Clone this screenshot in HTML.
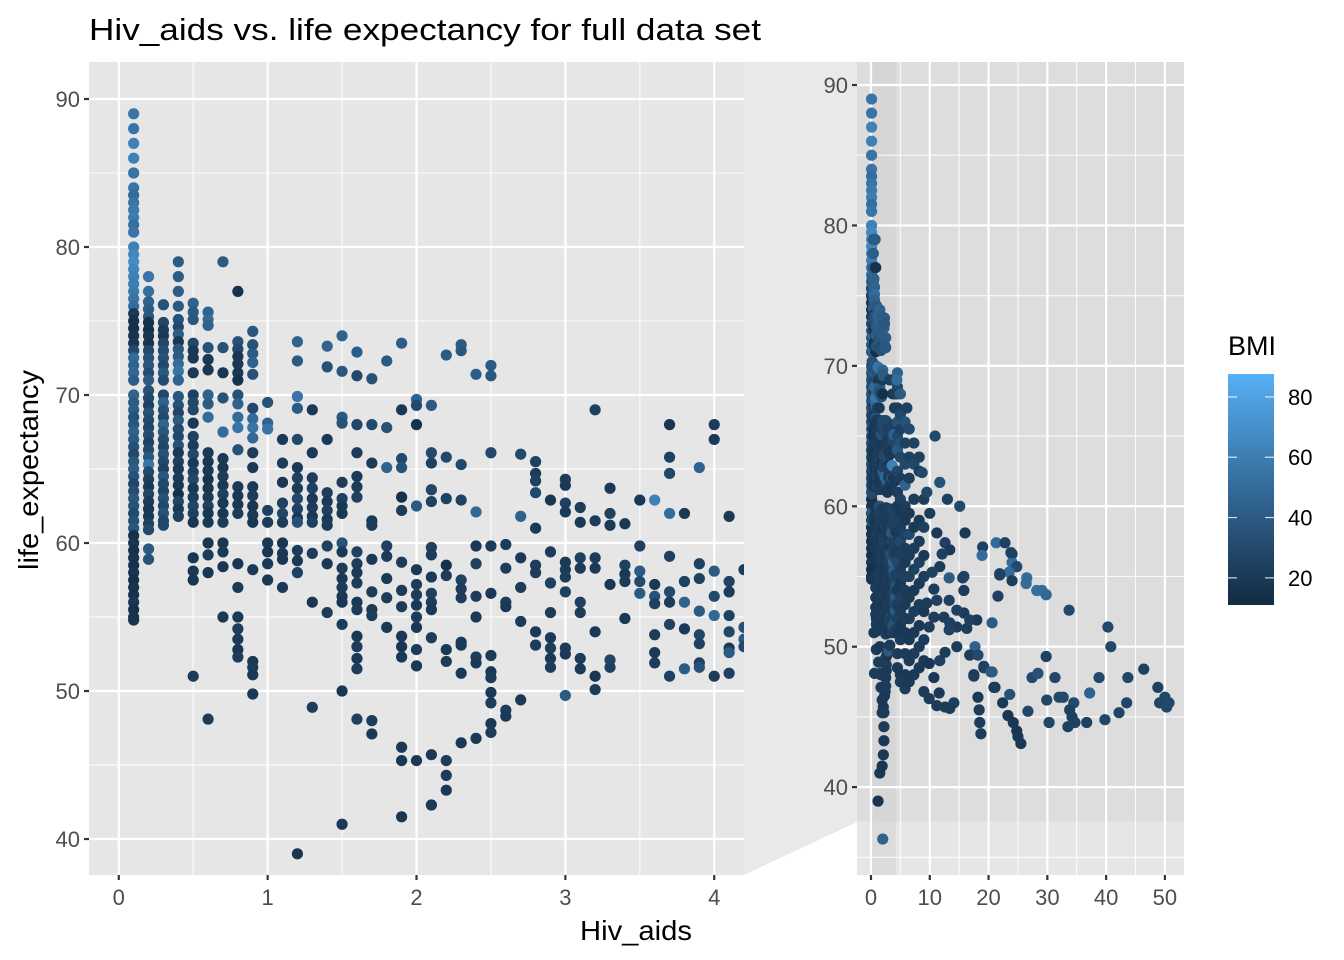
<!DOCTYPE html>
<html>
<head>
<meta charset="utf-8">
<style>
  html, body { margin: 0; padding: 0; background: #ffffff; }
  svg { display: block; font-family: "Liberation Sans", Arial, sans-serif; }
</style>
</head>
<body>
<svg id="chart" width="1344" height="960" viewBox="0 0 1344 960" xmlns="http://www.w3.org/2000/svg">
  <defs>
    <clipPath id="clipMain"><rect x="89" y="62" width="655" height="813"/></clipPath>
    <clipPath id="clipFull"><rect x="857" y="62" width="327" height="813"/></clipPath>
    <linearGradient id="bmiGrad" x1="0" y1="1" x2="0" y2="0"></linearGradient>
  </defs>
  <text x="89" y="40" font-size="31" textLength="672" lengthAdjust="spacingAndGlyphs" fill="#000">Hiv_aids vs. life expectancy for full data set</text>
  <g id="gMain"></g>
  <polygon points="744,62 857,62 857,822 744,875" fill="#e9e9e9"/>
  <g id="gFull"></g>
  <text x="636" y="940" font-size="28" text-anchor="middle" textLength="112" lengthAdjust="spacingAndGlyphs" fill="#000">Hiv_aids</text>
  <text transform="translate(38,470) rotate(-90)" font-size="28" text-anchor="middle" textLength="200" lengthAdjust="spacingAndGlyphs" fill="#000">life_expectancy</text>
  <g id="gLegend"></g>
</svg>
<script>
// ---- data: grouped by Hiv_aids value ----
const columnHiv = [0.1,0.2,0.3,0.4,0.5,0.6,0.7,0.8,0.9,1.0,1.1,1.2,1.3,1.4,1.5,1.6,1.7,1.8,1.9,2.0,2.1,2.2,2.3,2.4,2.5,2.6,2.7,2.8,2.9,3.0,3.1,3.2,3.3,3.4,3.5,3.6,3.7,3.8,3.9,4.0,4.1,4.2,4.5,5,5.8,6.5,7.3,8.2,9];
const columnLife = [
 [89,88,87,86,85,84,83.5,83,82.5,82,81.5,81,80,79.5,79,78.5,78,77.5,77,76.5,76,75.5,75,74.5,74,73.5,73,72.5,72,71.5,71,70,69.5,69,68.5,68,67.5,67,66.5,66,65.5,65,64.5,64,63.5,63,62.5,62,61.5,61,60.5,60,59.5,59,58.5,58,57.5,57,56.5,56,55.5,55,54.8],
 [78,77,76.3,75.8,75.3,74.9,74.4,74,73.5,73,72.5,72,71.5,71,70.3,69.8,69.3,68.8,68.3,67.8,67.3,66.8,66.3,65.8,65.3,64.8,64.3,63.8,63.3,62.8,62.3,61.8,61.3,60.9,59.6,58.9],
 [76.1,74.9,74.4,74,73.5,73,72.5,72,71.5,71,70,69.5,69,68.5,68,67.5,67,66.5,66,65.5,65,64.5,64,63.5,63,62.5,62,61.5,61.2],
 [79,78,77,76,75.1,74.6,74.1,73.6,73.1,72.6,72.1,71.6,71,69.9,69.3,68.8,68.3,67.7,67.2,66.6,66.1,65.5,65,64.4,63.9,63.3,62.8,62.3,61.8],
 [76.2,75.6,75.1,73.5,73,72.5,71.5,70,69.5,69,68.1,67.2,66.6,66,65.4,64.8,64.3,63.7,63.1,62.5,62,61.4,59,58.1,57.5,51],
 [75.6,75.1,74.7,73.2,72.4,71.7,70,69.4,68.5,66.1,65.5,64.9,64.3,63.7,63.1,62.5,62,61.4,60,59.2,58,48.1],
 [79,73.2,71.5,69.8,67.5,65.7,65.1,64.5,63.9,63.3,62.7,62,61.4,60,59.4,58.4,55],
 [77,73.6,73.1,72.6,72.1,71.5,71,70,69.4,68.5,67.8,66.3,63.8,63.2,62.6,62,58.6,57,55,54.2,53.5,52.8,52.3],
 [74.3,73.4,72.8,72.2,71.4,69.1,68.4,67.8,67.1,66.1,65.1,63.8,63.2,62.5,61.9,61.4,58.2,52,51.6,51.1,49.8],
 [69.5,68.1,67.7,62.2,61.4,60,59.4,58.6,57.5],
 [67,65.4,64.1,62.7,62,61.4,60,59.3,58.9,57],
 [73.6,72.3,69.9,69.1,67,65.1,64.4,63.7,63,62.3,61.7,61.4,59.5,58.8,58,39],
 [69,66.1,64.4,63.7,63,62.4,61.8,61.4,59.3,56,48.9],
 [73.3,71.9,67,63.4,62.8,62.2,61.6,61.2,59.8,58.6,55.3],
 [74,71.6,68.5,68.1,64.1,63,62.5,62,60,59.4,58.3,57.6,57,56.4,56,54.5,50,41],
 [72.9,71.3,68,66.1,64.5,63.8,63.1,59.4,58.6,58,57.3,56,55.5,53.7,53,52.2,51.5,48.1],
 [71.1,68,65.4,61.5,61.2,58.9,56.7,55.5,55.1,48,47.1],
 [72.3,67.8,65.1,59.8,59.1,57.6,56.3,54.3],
 [73.5,69,65.7,65.1,63.1,62.2,58.7,56.8,55.7,53.7,53,52.3,46.2,45.3,41.5],
 [69.7,69.3,68,62.5,58.2,57.2,56.5,55.8,55,54.3,52.8,51.7,45.3,36.3],
 [69.3,66.1,65.4,63.6,62.8,59.7,59.2,57.7,56.6,56,55.5,53.6,45.7,42.3],
 [72.7,65.8,63,58.5,57.8,52.8,52,45.3,44.3,43.3],
 [73.4,73,65.3,62.9,57.5,56.9,56.3,53.3,53.1,51.2,46.5],
 [71.4,62.1,59.8,58.6,56.4,55,52.3,51.9,46.8],
 [72,71.3,66.1,59.8,56.6,52.4,51.3,50.9,49.9,49.2,47.8,47.2],
 [59.9,58.3,56,55.7,48.7,48.3],
 [66,61.8,59,57,54.7,49.4],
 [65.5,64.7,64.2,63.4,61,58.5,58,54,53.1],
 [62.9,59.4,57.3,55.3,53.6,52.9,52.2,51.6],
 [64.3,63.9,62.7,62.1,58.7,58.2,57.7,56.7,52.9,52.5,49.7],
 [62.4,61.4,59,58.3,56,55.3,52.2,51.5],
 [69,61.5,59,58.3,54,51,50.1],
 [63.7,62,61.2,57.2,52.1,51.6],
 [61.3,58.5,57.9,57.4,54.9],
 [62.9,59.8,58.1,57.4,56.6],
 [62.9,57.2,56.4,55.9,53.8,52.6,51.9],
 [68,65.8,64.7,62,59.1,56.7,56,54.5,51],
 [62,57.4,56,54.2,51.5],
 [65.1,58.6,57.6,55.4,53.8,53.2,51.9,51.6],
 [68,67,58.1,56.4,55.1,51],
 [61.8,57.4,56.7,55.1,54,52.9,52.6,51.2],
 [58.2,54.3,53.5,53],
 [69.5,68.5,68,67,66,65,64,62.5,61,60,59,58,57,56,55,54,53,52,51,49.5,48.5],
 [68,66.5,65.5,64.5,63.5,62,60.5,59.5,58.5,57.5,56.5,55.5,54.5,53.5,52.5,51.5,50.5,48,47.5],
 [66,64.5,63,61.5,60,59,58,57,56,55,54,53,52,51,49.5,48,47],
 [65.5,63.5,62,59.5,58,56.5,55,53.5,52,50.5,49,47.5],
 [64.5,63,60.5,58.5,57,55.5,54,52.5,51,49.5,48],
 [63.5,62.5,59,57.5,56,54.5,53,51.5,50,48.5],
 [60.5,58.5,56.5,55,52.5,50.5,49]
];
const columnBmi = [
 [55,55,62,62,55,55,50,55,58,60,52,55,62,66,68,65,62,60,58,55,50,20,15,14,16,18,30,50,45,48,42,45,40,42,35,38,45,40,35,30,38,42,35,28,33,38,36,30,34,38,15,18,14,16,15,17,14,16,15,18,14,16,17],
 [55,52,45,40,38,15,14,18,16,30,35,38,32,40,35,30,25,35,30,28,33,26,30,38,55,30,25,20,28,22,18,20,25,30,40,35],
 [35,30,22,20,28,32,35,30,38,32,30,45,35,30,45,38,32,28,35,30,25,38,30,28,35,30,35,28,30],
 [40,42,42,40,35,30,42,18,38,40,50,55,45,38,35,28,40,32,30,35,20,25,20,22,18,15,28,20,25],
 [45,40,38,30,20,18,20,25,30,30,20,25,22,30,20,25,28,20,22,28,25,18,18,20,18,22],
 [45,50,45,35,20,18,45,40,50,20,18,20,17,18,20,25,18,20,18,22,18,22],
 [40,35,18,35,50,20,18,22,20,25,20,18,22,18,20,18,20],
 [15,35,30,18,20,18,15,35,45,50,55,35,20,18,20,22,18,20,20,22,20,18,22],
 [38,35,40,45,35,30,50,55,48,22,20,20,22,18,20,18,20,20,22,20,20],
 [35,45,55,25,22,20,18,20,20],
 [20,22,18,25,28,22,18,20,18,20],
 [45,40,55,40,30,20,25,22,30,25,20,35,22,20,25,18],
 [20,20,22,25,20,22,20,25,22,18,22],
 [45,35,20,22,20,25,20,22,25,20,22],
 [45,38,40,35,22,25,20,18,35,20,22,20,22,20,18,22,18,20],
 [42,30,28,22,20,22,25,25,22,20,22,20,22,20,22,20,22,25],
 [35,30,22,20,22,20,22,20,22,22,20],
 [40,35,45,25,22,20,22,20],
 [42,20,30,35,15,22,22,20,22,20,18,20,20,20,18],
 [45,30,15,40,20,22,22,20,22,20,22,20,20,45],
 [40,30,25,28,25,25,22,20,25,22,20,22,20,20],
 [40,30,25,15,22,20,22,22,22,20],
 [40,38,30,25,25,22,22,22,20,20,20],
 [42,48,18,25,22,20,22,20,20],
 [40,38,30,22,20,22,20,22,20,22,20,22],
 [22,22,22,20,22,20],
 [30,45,20,22,22,20],
 [25,22,25,30,20,22,22,20,22],
 [18,22,25,22,20,22,20,22],
 [22,20,25,20,20,22,22,25,22,20,40],
 [22,20,25,22,25,22,22,20],
 [25,22,22,20,20,18,22],
 [20,25,20,18,28,25],
 [18,25,20,22,20],
 [20,25,40,30,40],
 [62,20,35,25,22,20,22],
 [18,25,28,50,25,30,22,25,25],
 [20,25,45,20,40],
 [45,25,25,40,28,25,25,35],
 [22,20,40,30,48,22],
 [20,25,22,25,28,20,40,25],
 [22,35,40,30],
 [45,30,25,22,35,30,40,28,22,20,25,20,22,30,25,20,22,25,20,22,20],
 [40,30,25,35,28,22,25,20,22,30,25,22,20,25,22,20,22,20,22],
 [35,25,30,45,22,20,25,22,20,25,22,20,22,20,22,20,22],
 [30,25,22,20,30,22,25,20,22,20,22,20],
 [25,30,22,20,22,25,20,22,20,22,20],
 [25,22,20,22,25,20,22,20,22,20],
 [22,25,20,22,20,22,20]
];
// ---- scattered high-Hiv observations (full panel) ----
const extraHiv = [
 4.4,6.1,10.9,8.7,11.7,9.5,15.1,16,19,18.9,
 21.3,22.8,24,24,24.8,23.5,21.9,24,26.5,26.4,
 28.2,29.1,29.8,21.6,33.7,40.3,40.8,20.6,15.8,15.8,
 15.8,18,16.3,17.7,16.8,18.2,19.2,20.6,17.5,21.1,
 22.4,23.6,18.2,18.4,18.5,18.7,23.3,24.2,24.8,25,
 25.5,29.8,27.4,28.4,31.3,26.7,29.9,32,32.7,34.5,
 33.8,34.2,34.7,33.5,30.3,36.7,39.8,42.2,43.5,43.7,
 38.8,37.2,46.4,48.8,50,49.1,50.3,50.7,11.2,12.6,
 13.4,12.1,11.7,10.4,13.3,15.6,10.7,11.2,9.5,13.3,
 12.4,14.6,13.4,10.7,9.9,16.8,14.6,13.3,14.6,12.6,
 11.7,9.9,10.7,9,9.9,11.6,11.2,12.6,14.1,13.4,
 17.5,19.2,20.4,20.9,23.8,21.9,13,10
];
const extraLife = [
 69,67,65,62.4,61.7,61,60,58.1,57.1,56.5,
 57.4,57.4,56.6,56,55.7,55.3,55.1,54.7,54.9,54.5,
 54,54,53.7,53.6,52.6,51.4,50,51.7,55,54,
 52.4,51.9,51.3,50,49.4,49.4,48.5,48.2,47.9,47.1,
 46,46.6,46.4,45.5,44.6,43.8,45.1,44.6,44,43.6,
 43.1,49.3,47.8,48.1,47.8,45.4,46.2,46.4,46.4,46,
 45.5,45,44.6,44.3,44.6,44.6,44.8,45.3,46,47.8,
 47.8,46.7,48.4,47.1,46.4,46,45.7,46,58.1,57.4,
 56.9,56.6,55.7,55.3,54.9,54.9,54.1,53.3,53.1,53.3,
 52.1,52.6,51.7,52.1,51.4,51.9,51.4,51.2,50,49.6,
 49,48.8,47.8,46.8,46.3,46.7,45.8,45.7,46,45.6,
 48,48.6,48.2,47.1,56.7,55.2,60.5,59.5
];
const extraBmi = [
 50,25,30,30,35,30,30,20,25,50,
 50,25,25,50,30,50,25,22,50,50,
 52,50,48,25,30,30,30,40,25,22,
 22,20,22,45,22,30,22,40,22,20,
 20,35,20,22,22,22,18,18,18,18,
 18,25,30,35,28,28,28,30,30,30,
 25,25,25,25,28,25,28,28,28,28,
 30,45,25,25,30,28,28,30,20,25,
 20,25,22,25,40,25,22,25,22,25,
 22,25,25,22,22,25,22,25,22,22,
 25,18,18,22,22,20,22,22,25,22,
 22,25,40,22,25,25,25,22
];
const mainXTicks = [0,1,2,3,4];
const mainYTicks = [40,50,60,70,80,90];
const fullXTicks = [0,10,20,30,40,50];
const fullYTicks = [40,50,60,70,80,90];
const legendTicks = [20,40,60,80];

// ---- scales ----
const NS = "http://www.w3.org/2000/svg";
const main = {x0:89, x1:744, y0:62, y1:875, dMinX:-0.2, dMaxX:4.2, dMinY:37.57, dMaxY:92.5};
const full = {x0:857, x1:1184, y0:62, y1:875, dMinX:-2.38, dMaxX:53.25, dMinY:33.74, dMaxY:91.64};
function sx(p, v){ return p.x0 + (v - p.dMinX) / (p.dMaxX - p.dMinX) * (p.x1 - p.x0); }
function sy(p, v){ return p.y1 - (v - p.dMinY) / (p.dMaxY - p.dMinY) * (p.y1 - p.y0); }
const bmiMin = 11.0, bmiMax = 87.6;

// Lab colour interpolation (#132B43 -> #56B1F7)
function lin(c){ c/=255; return c<=0.04045? c/12.92 : Math.pow((c+0.055)/1.055,2.4); }
function unlin(c){ c = c<=0.0031308? 12.92*c : 1.055*Math.pow(c,1/2.4)-0.055; return Math.max(0,Math.min(255,Math.round(c*255))); }
function toLab(hex){
  const r=lin(parseInt(hex.substr(1,2),16)), g=lin(parseInt(hex.substr(3,2),16)), b=lin(parseInt(hex.substr(5,2),16));
  let X=(0.4124*r+0.3576*g+0.1805*b)/0.95047, Y=(0.2126*r+0.7152*g+0.0722*b), Z=(0.0193*r+0.1192*g+0.9505*b)/1.08883;
  const f=t=> t>0.008856? Math.cbrt(t) : 7.787*t+16/116;
  const fx=f(X), fy=f(Y), fz=f(Z);
  return [116*fy-16, 500*(fx-fy), 200*(fy-fz)];
}
function fromLab(L,a,b){
  const fy=(L+16)/116, fx=fy+a/500, fz=fy-b/200;
  const fi=t=> t*t*t>0.008856? t*t*t : (t-16/116)/7.787;
  const X=fi(fx)*0.95047, Y=fi(fy), Z=fi(fz)*1.08883;
  const r= 3.2406*X-1.5372*Y-0.4986*Z, g=-0.9689*X+1.8758*Y+0.0415*Z, bb=0.0557*X-0.2040*Y+1.0570*Z;
  return "rgb("+unlin(r)+","+unlin(g)+","+unlin(bb)+")";
}
const labLo = toLab("#132B43"), labHi = toLab("#56B1F7");
function colorAt(t){ t=Math.max(0,Math.min(1,t)); return fromLab(labLo[0]+(labHi[0]-labLo[0])*t, labLo[1]+(labHi[1]-labLo[1])*t, labLo[2]+(labHi[2]-labLo[2])*t); }
function bmiColor(v){ return colorAt((v-bmiMin)/(bmiMax-bmiMin)); }

function mk(tag, attrs, parent){ const e=document.createElementNS(NS,tag); for(const k in attrs) e.setAttribute(k,attrs[k]); parent.appendChild(e); return e; }

// flatten observations
const obsHiv=[], obsLife=[], obsBmi=[];
columnHiv.forEach((h,i)=>{ columnLife[i].forEach((l,j)=>{ obsHiv.push(h); obsLife.push(l); const arr=columnBmi[i]; obsBmi.push(arr[j]!==undefined? arr[j] : arr[arr.length-1]); }); });
extraHiv.forEach((h,i)=>{ obsHiv.push(h); obsLife.push(extraLife[i]); obsBmi.push(extraBmi[i]); });

function drawPanel(g, p, xt, yt, xMinor, yMinor, clipId, overlays){
  const bg = mk("rect",{x:p.x0,y:p.y0,width:p.x1-p.x0,height:p.y1-p.y0,fill:"#e6e6e6"},g);
  
  
  if (overlays) overlays(g);
  xMinor.forEach(v=>{ const x=sx(p,v); const l=mk("line",{x1:x,x2:x,y1:p.y0,y2:p.y1,stroke:"#fff","stroke-width":1.1,"stroke-opacity":0.85},g);
      });
  yMinor.forEach(v=>{ const y=sy(p,v); const l=mk("line",{x1:p.x0,x2:p.x1,y1:y,y2:y,stroke:"#fff","stroke-width":1.1,"stroke-opacity":0.85},g);
      });
  xt.forEach(v=>{ const x=sx(p,v); const l=mk("line",{x1:x,x2:x,y1:p.y0,y2:p.y1,stroke:"#fff","stroke-width":2.2},g);
     
    const t=mk("line",{x1:x,x2:x,y1:p.y1,y2:p.y1+5,stroke:"#333","stroke-width":2.2},g);
     
    const tx=mk("text",{x:x,y:p.y1+30,"font-size":22,"text-anchor":"middle",fill:"#4d4d4d"},g); tx.textContent=v;
      });
  yt.forEach(v=>{ const y=sy(p,v); const l=mk("line",{x1:p.x0,x2:p.x1,y1:y,y2:y,stroke:"#fff","stroke-width":2.2},g);
     
    const t=mk("line",{x1:p.x0-5,x2:p.x0,y1:y,y2:y,stroke:"#333","stroke-width":2.2},g);
     
    const tx=mk("text",{x:p.x0-9,y:y+8,"font-size":22,"text-anchor":"end",fill:"#4d4d4d"},g); tx.textContent=v;
      });
  const pts = mk("g",{"clip-path":"url(#"+clipId+")"},g);
  
  
  for(let i=0;i<obsHiv.length;i++){
    const c=mk("circle",{cx:sx(p,obsHiv[i]),cy:sy(p,obsLife[i]),r:5.6,fill:bmiColor(obsBmi[i])},pts);
    
    
  }
}

drawPanel(document.getElementById("gMain"), main, mainXTicks, mainYTicks,
  [0.5,1.5,2.5,3.5], [45,55,65,75,85], "clipMain", null);

drawPanel(document.getElementById("gFull"), full, fullXTicks, fullYTicks,
  [5,15,25,35,45], [35,45,55,65,75,85], "clipFull", function(g){
    const yTop = full.y0, yBot = sy(full, main.dMinY);
    const o1=mk("rect",{x:full.x0,y:yTop,width:full.x1-full.x0,height:yBot-yTop,fill:"#d4d4d4","fill-opacity":0.5},g);
     
    const xa=sx(full,0.1), xb=sx(full,4.2);
    const o2=mk("rect",{x:xa,y:full.y0,width:xb-xa,height:full.y1-full.y0,fill:"#cfcfcf","fill-opacity":0.45},g);
     
  });

// ---- legend ----
const lg = document.getElementById("gLegend");
const grad = document.getElementById("bmiGrad");
for(let k=0;k<=10;k++){ const s=document.createElementNS(NS,"stop"); s.setAttribute("offset",(k/10)); s.setAttribute("stop-color",colorAt(k/10)); grad.appendChild(s); }
const barX=1228, barW=46, barTop=374, barBot=605;
const lt=mk("text",{x:1228,y:355,"font-size":27,fill:"#000"},lg); lt.textContent="BMI";
 
const bar=mk("rect",{x:barX,y:barTop,width:barW,height:barBot-barTop,fill:"url(#bmiGrad)"},lg);
 
function ly(v){ return barBot - (v-bmiMin)/(bmiMax-bmiMin)*(barBot-barTop); }
legendTicks.forEach(v=>{ const y=ly(v);
  const a=mk("line",{x1:barX,x2:barX+9,y1:y,y2:y,stroke:"#fff","stroke-width":1.2,"stroke-opacity":0.8},lg);
   
  const b=mk("line",{x1:barX+barW-9,x2:barX+barW,y1:y,y2:y,stroke:"#fff","stroke-width":1.2,"stroke-opacity":0.8},lg);
   
  const t=mk("text",{x:1288,y:y+8,"font-size":22,fill:"#000"},lg); t.textContent=v;
   
});
</script>
</body>
</html>
